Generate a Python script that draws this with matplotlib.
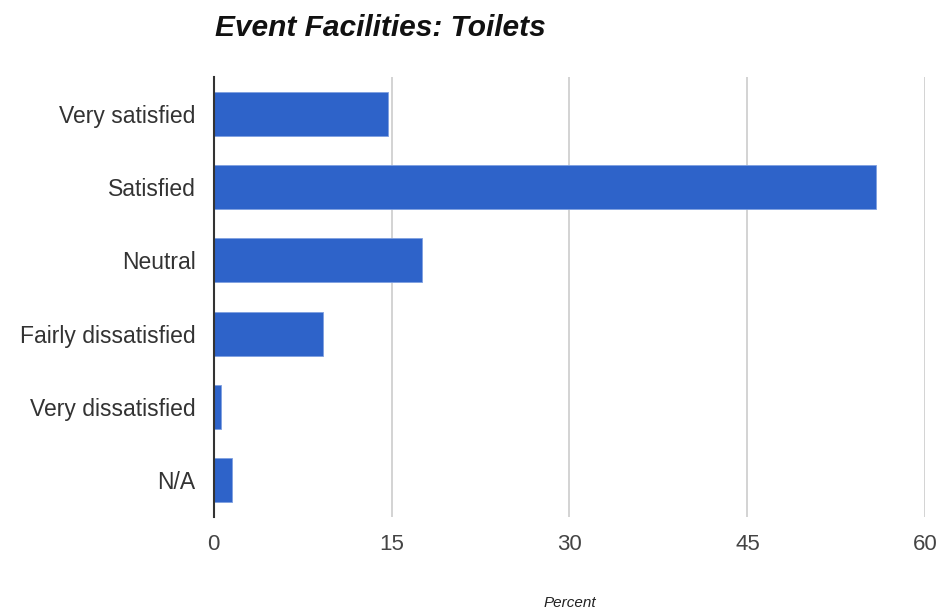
import matplotlib
matplotlib.use("Agg")
import matplotlib.pyplot as plt

categories = ["Very satisfied", "Satisfied", "Neutral", "Fairly dissatisfied", "Very dissatisfied", "N/A"]
values = [14.7, 55.8, 17.6, 9.2, 0.6, 1.6]
xticks = [0, 15, 30, 45, 60]

plt.rcParams['font.family'] = ['Liberation Sans', 'DejaVu Sans']

fig = plt.figure(figsize=(9.41, 6.14), dpi=100)
ax = fig.add_axes([0.2269, 0.158, 0.7566, 0.7166])

y = list(range(len(categories)))
ax.barh(y, values, height=0.6, color='#2e63c9', edgecolor='#7fa0e0', linewidth=0.6, zorder=3)
ax.set_ylim(len(categories) - 0.5, -0.5)
ax.set_xlim(0, 60)
ax.set_yticks(y)
ax.set_yticklabels(categories, fontsize=16.5, color='#333333')
ax.set_xticks(xticks)
ax.set_xticklabels([str(t) for t in xticks], fontsize=16, color='#444444')
ax.tick_params(axis='both', length=0)
ax.tick_params(axis='y', pad=13)
ax.tick_params(axis='x', pad=12)
ax.grid(axis='x', color='#cccccc', linewidth=1.2, zorder=0)
for s in ['top', 'right', 'bottom']:
    ax.spines[s].set_visible(False)
ax.spines['left'].set_color('#333333')
ax.spines['left'].set_linewidth(1.5)
ax.spines['left'].set_zorder(4)

ax.set_xlabel('Percent', fontsize=11, style='italic', color='#222222')
ax.xaxis.set_label_coords(0.5, -0.18)
fig.text(0.2285, 0.955, 'Event Facilities: Toilets', fontsize=21.5, fontweight='bold', style='italic', ha='left', va='center', color='#111111')

fig.savefig('out.png', dpi=100)
